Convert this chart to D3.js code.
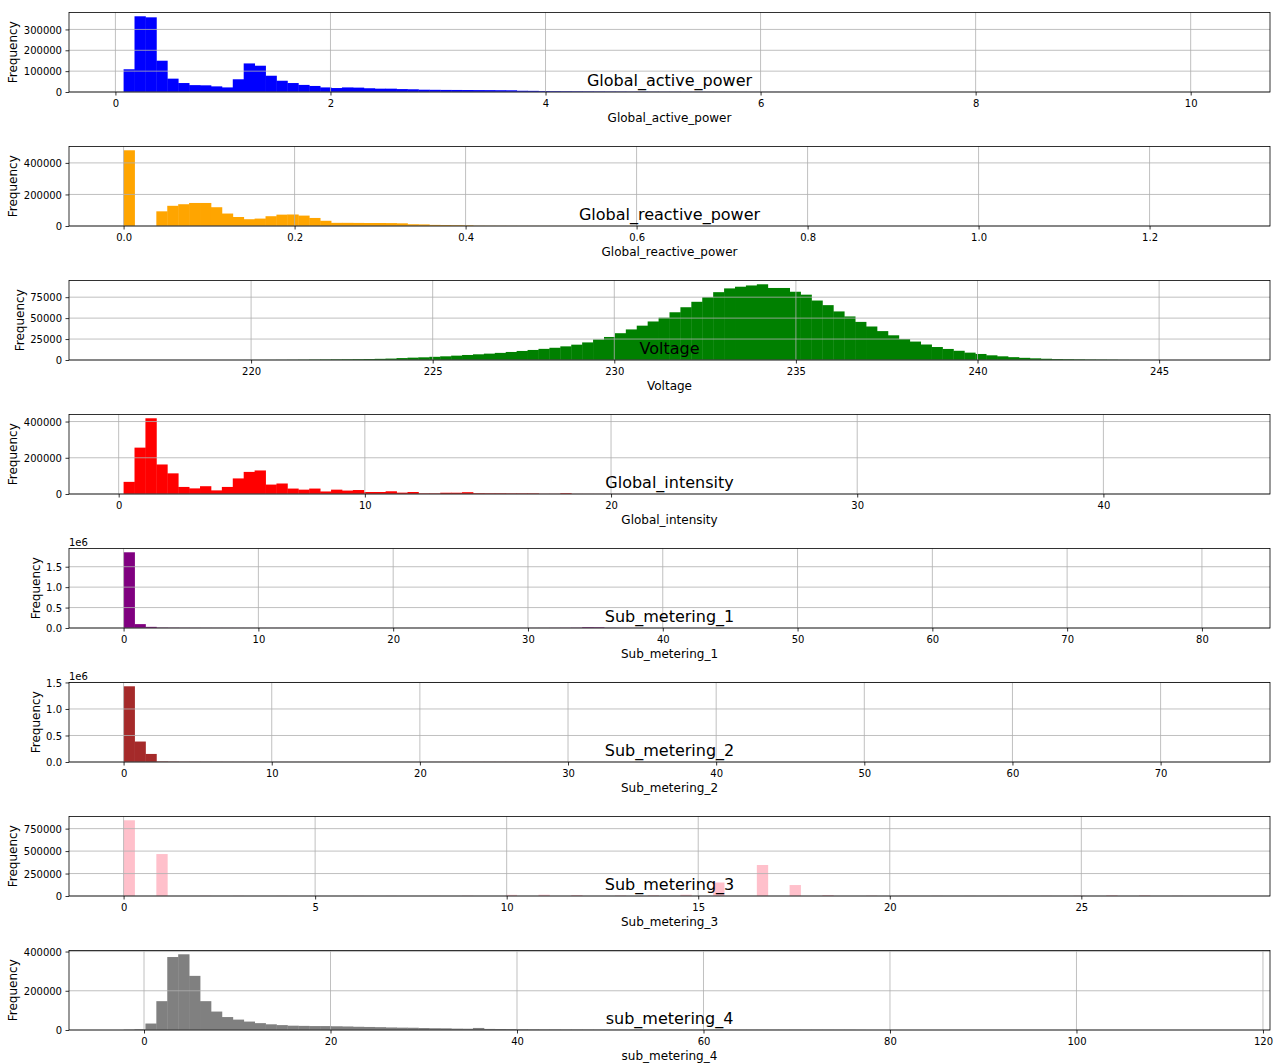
<!DOCTYPE html>
<html lang="en">
<head>
<meta charset="UTF-8">
<title>Histograms</title>
<style>
    body { margin: 0; background: #fff; }
    text { font-family: "DejaVu Sans", sans-serif; fill: #000; }
</style>
</head>
<body>
<div id="chart"></div>
<script src="https://cdn.jsdelivr.net/npm/d3@7/dist/d3.min.js"></script>
<script>
    var columns = ["Global_active_power", "Global_reactive_power", "Voltage", "Global_intensity",
        "Sub_metering_1", "Sub_metering_2", "Sub_metering_3", "sub_metering_4"];
    var colors = ["blue", "orange", "green", "red", "purple", "brown", "pink", "gray"];

    // min / max of each column (edges of the 100 bins)
    var binRanges = [[0.076, 10.23], [0, 1.277], [216.49, 246.55], [0.2, 44.55],
        [0, 81], [0, 73.7], [0, 28.5], [-2.19, 114.9]];

    var activePower = [
        109000, 363000, 358000, 150000, 64000, 43000, 33000, 32000, 27000, 22000,
        61000, 137000, 126000, 78000, 54000, 43000, 34000, 29000, 22000, 19000,
        22000, 21000, 18000, 16000, 16000, 14000, 13000, 11000, 10500, 10000,
        9800, 9500, 9200, 9000, 8600, 8200, 6000, 5500, 4200, 3800,
        3300, 3000, 2700, 2400, 2100, 1900, 1600, 1400, 1200, 1000,
        900, 800, 700, 600, 520, 450, 400, 350, 300, 260,
        220, 190, 160, 140, 120, 100, 90, 80, 70, 60,
        50, 45, 40, 35, 30, 28, 25, 22, 20, 18,
        16, 14, 12, 10, 9, 8, 7, 6, 5, 5,
        4, 4, 3, 3, 2, 2, 2, 1, 1, 1];
    var reactivePower = [
        480000, 0, 0, 93000, 128000, 138000, 146000, 146000, 119000, 79000,
        57000, 43000, 47000, 62000, 72000, 73000, 66000, 51000, 33000, 20000,
        20000, 19500, 19000, 19000, 18500, 17000, 11000, 10000, 7000, 6000,
        5000, 4000, 1500, 1200, 1000, 800, 700, 600, 500, 450,
        400, 350, 300, 260, 230, 200, 180, 160, 140, 120,
        100, 90, 80, 70, 60, 55, 50, 45, 40, 35,
        30, 28, 25, 22, 20, 18, 16, 14, 12, 10,
        9, 8, 7, 6, 6, 5, 5, 4, 4, 3,
        3, 3, 2, 2, 2, 2, 1, 1, 1, 1,
        1, 1, 1, 1, 0, 0, 0, 1, 0, 1];
    var voltage = [
        0, 0, 0, 5, 0, 2, 8, 10, 15, 20,
        30, 40, 60, 90, 130, 200, 300, 450, 600, 750,
        850, 1000, 1150, 1400, 1700, 2300, 2800, 3200, 3800, 4400,
        5200, 6000, 6800, 7600, 8500, 9600, 10800, 12000, 13300, 14600,
        16300, 18300, 21000, 24500, 27500, 32000, 36500, 41000, 46000, 50500,
        57000, 63000, 69500, 75000, 81000, 85500, 87500, 89000, 90400, 86000,
        86000, 81500, 78000, 71000, 65500, 58000, 52000, 45500, 40000, 34500,
        29500, 25000, 22000, 18500, 15500, 13200, 11000, 8800, 7200, 5600,
        4400, 3400, 2600, 2000, 1500, 1100, 900, 700, 500, 400,
        300, 150, 80, 40, 20, 10, 5, 3, 1, 1];
    var intensity = [
        67000, 256000, 418000, 163000, 114000, 39000, 31000, 43000, 20000, 39000,
        86000, 122000, 130000, 52000, 58000, 30000, 24000, 30000, 14000, 24000,
        19000, 22000, 11000, 11000, 15000, 7500, 11000, 3000, 3000, 7000,
        7000, 10000, 4000, 3500, 3500, 3000, 3000, 3000, 1000, 1000,
        4000, 600, 500, 450, 400, 350, 300, 250, 200, 180,
        160, 140, 120, 100, 90, 80, 70, 60, 50, 45,
        40, 35, 30, 28, 25, 22, 20, 18, 16, 14,
        12, 10, 9, 8, 7, 6, 5, 5, 4, 4,
        3, 3, 3, 2, 2, 2, 2, 1, 1, 1,
        1, 1, 1, 0, 1, 0, 0, 1, 0, 1];
    var sub1 = [
        1853000, 95000, 28000, 9000, 6000, 4500, 3500, 3000, 2500, 2200,
        2000, 1800, 1600, 1500, 1400, 1300, 1200, 1100, 1000, 1000,
        950, 900, 900, 850, 800, 800, 800, 800, 850, 900,
        900, 1000, 1000, 1200, 1300, 1500, 1800, 2200, 2700, 3500,
        5000, 7000, 20000, 18000, 5000, 3000, 2200, 1600, 1200, 900,
        700, 500, 400, 300, 250, 200, 160, 130, 100, 80,
        70, 60, 50, 40, 35, 30, 25, 20, 18, 16,
        14, 12, 10, 9, 8, 7, 6, 5, 4, 4,
        3, 3, 2, 2, 2, 1, 1, 1, 1, 1,
        1, 1, 0, 1, 0, 0, 1, 0, 0, 1];
    var sub2 = [
        1428000, 386000, 152000, 9000, 6000, 4000, 3500, 3000, 2500, 2000,
        1800, 1600, 1400, 1300, 1200, 1100, 1000, 950, 900, 850,
        800, 750, 700, 700, 800, 900, 1100, 1300, 1500, 1800,
        2000, 2200, 2400, 2500, 2400, 2200, 2000, 1800, 1600, 1400,
        1200, 1000, 900, 800, 700, 600, 500, 450, 400, 350,
        300, 260, 220, 190, 160, 140, 120, 100, 90, 80,
        70, 60, 50, 45, 40, 35, 30, 25, 22, 20,
        18, 16, 14, 12, 10, 9, 8, 7, 6, 5,
        5, 4, 4, 3, 3, 2, 2, 2, 1, 1,
        1, 1, 1, 0, 1, 0, 0, 1, 0, 1];
    var sub3 = [
        843000, 0, 0, 467000, 0, 0, 0, 2500, 0, 0,
        2000, 0, 0, 0, 1800, 0, 0, 1600, 0, 0,
        0, 1500, 0, 0, 1500, 0, 0, 0, 1800, 0,
        0, 3000, 0, 0, 0, 13000, 0, 0, 14000, 0,
        0, 11000, 0, 0, 0, 6000, 0, 0, 8000, 0,
        0, 14000, 0, 0, 150000, 0, 0, 0, 345000, 0,
        0, 122000, 0, 0, 11000, 0, 0, 0, 4000, 0,
        0, 2500, 0, 0, 2000, 0, 0, 1800, 0, 0,
        1800, 0, 0, 0, 2200, 0, 0, 3500, 0, 0,
        9000, 0, 0, 8000, 0, 0, 2000, 0, 0, 1000];
    var sub4 = [
        1500, 3500, 33000, 147000, 372000, 386000, 276000, 147000, 94000, 66000,
        53000, 43000, 35000, 29000, 25000, 22000, 21000, 20000, 20000, 19000,
        18000, 16500, 15500, 14500, 13000, 12000, 11500, 10000, 9000, 8500,
        7000, 6500, 10500, 5500, 5000, 4500, 3000, 2500, 2200, 2000,
        1900, 1800, 1700, 1600, 1500, 1500, 1400, 1300, 1300, 1200,
        1200, 1100, 1100, 1000, 1000, 950, 900, 900, 850, 800,
        800, 750, 700, 700, 650, 600, 600, 200, 100, 80,
        60, 50, 40, 30, 25, 20, 15, 12, 10, 8,
        6, 5, 4, 3, 3, 2, 2, 2, 1, 1,
        1, 1, 0, 1, 0, 0, 1, 0, 0, 1];

    var series = [activePower, reactivePower, voltage, intensity, sub1, sub2, sub3, sub4];

    var xTicks = [
        [0, 2, 4, 6, 8, 10],
        [0, 0.2, 0.4, 0.6, 0.8, 1.0, 1.2],
        [220, 225, 230, 235, 240, 245],
        [0, 10, 20, 30, 40],
        [0, 10, 20, 30, 40, 50, 60, 70, 80],
        [0, 10, 20, 30, 40, 50, 60, 70],
        [0, 5, 10, 15, 20, 25],
        [0, 20, 40, 60, 80, 100, 120]];
    var yTicks = [
        [0, 100000, 200000, 300000],
        [0, 200000, 400000],
        [0, 25000, 50000, 75000],
        [0, 200000, 400000],
        [0, 500000, 1000000, 1500000],
        [0, 500000, 1000000, 1500000],
        [0, 250000, 500000, 750000],
        [0, 200000, 400000]];
    var xFormats = ["d", ".1f", "d", "d", "d", "d", "d", "d"];
    var yOffsets = [1, 1, 1, 1, 1e6, 1e6, 1, 1];

    var width = 1283, height = 1064;
    var left = 69, right = 1270, top0 = 12.5, step = 134, plotH = 79.5;

    var svg = d3.select("#chart").append("svg")
        .attr("width", width)
        .attr("height", height);

    columns.forEach(function (name, k) {
        var counts = series[k];
        var lo = binRanges[k][0], hi = binRanges[k][1];
        var pad = (hi - lo) * 0.05;
        var top = top0 + k * step, bottom = top + plotH;

        var x = d3.scaleLinear().domain([lo - pad, hi + pad]).range([left, right]);
        var y = d3.scaleLinear().domain([0, d3.max(counts) * 1.05]).range([bottom, top]);

        var bw = (hi - lo) / counts.length;
        var bins = counts.map(function (c, i) {
            return {x0: lo + i * bw, x1: lo + (i + 1) * bw, c: c};
        });

        var g = svg.append("g");

        // bars (a hair wider so neighbours don't show seams)
        g.append("g").selectAll("rect")
            .data(bins.filter(function (d) { return d.c > 0; }))
            .enter()
            .append("rect")
            .attr("x", function (d) { return x(d.x0); })
            .attr("width", function (d) { return x(d.x1) - x(d.x0) + 0.4; })
            .attr("y", function (d) { return y(d.c); })
            .attr("height", function (d) { return y(0) - y(d.c); })
            .style("fill", colors[k]);

        // grid (drawn above the bars like matplotlib)
        var grid = g.append("g")
            .style("stroke", "#b0b0b0")
            .style("stroke-width", 0.8);
        grid.selectAll(".gx").data(xTicks[k]).enter().append("line")
            .attr("x1", function (d) { return x(d); })
            .attr("x2", function (d) { return x(d); })
            .attr("y1", top).attr("y2", bottom);
        grid.selectAll(".gy").data(yTicks[k]).enter().append("line")
            .attr("y1", function (d) { return y(d); })
            .attr("y2", function (d) { return y(d); })
            .attr("x1", left).attr("x2", right);

        // spines
        g.append("rect")
            .attr("x", left).attr("y", top)
            .attr("width", right - left).attr("height", plotH)
            .style("fill", "none")
            .style("stroke", "#000")
            .style("stroke-width", 0.8);

        // axes
        var xAxis = d3.axisBottom(x)
            .tickValues(xTicks[k])
            .tickFormat(d3.format(xFormats[k]))
            .tickSizeInner(3.5).tickSizeOuter(0).tickPadding(3.5);
        var gx = g.append("g")
            .attr("transform", "translate(0," + bottom + ")")
            .call(xAxis);
        var off = yOffsets[k];
        var yAxis = d3.axisLeft(y)
            .tickValues(yTicks[k])
            .tickFormat(function (d) { return off === 1 ? d3.format("d")(d) : d3.format(".1f")(d / off); })
            .tickSizeInner(3.5).tickSizeOuter(0).tickPadding(3.5);
        var gy = g.append("g")
            .attr("transform", "translate(" + left + ",0)")
            .call(yAxis);

        [gx, gy].forEach(function (a) {
            a.select(".domain").remove();
            a.attr("font-family", null).attr("font-size", null);
            a.selectAll("line").style("stroke", "#000").style("stroke-width", 0.8);
            a.selectAll("text").style("font-size", "10px");
        });
        gx.selectAll("text").attr("dy", "0.76em");
        gy.selectAll("text").attr("dy", "0.36em");

        if (off !== 1) {
            g.append("text")
                .attr("x", left)
                .attr("y", top - 2.5)
                .style("font-size", "10px")
                .text("1e" + Math.round(Math.log10(off)));
        }

        // labels
        g.append("text")
            .attr("x", (left + right) / 2)
            .attr("y", bottom + 29.5)
            .attr("text-anchor", "middle")
            .style("font-size", "12px")
            .text(name);

        var tickLeft = d3.min(gy.selectAll("text").nodes(), function (n) { return n.getBBox().x; }) + left;
        var ylx = tickLeft - 6.5;
        g.append("text")
            .attr("transform", "translate(" + ylx + "," + (top + plotH / 2) + ") rotate(-90)")
            .attr("text-anchor", "middle")
            .style("font-size", "12px")
            .text("Frequency");

        // title sits inside the axes, 6px above the bottom spine
        g.append("text")
            .attr("x", (left + right) / 2)
            .attr("y", bottom - 6)
            .attr("text-anchor", "middle")
            .style("font-size", "16px")
            .text(name);
    });
</script>
</body>
</html>
